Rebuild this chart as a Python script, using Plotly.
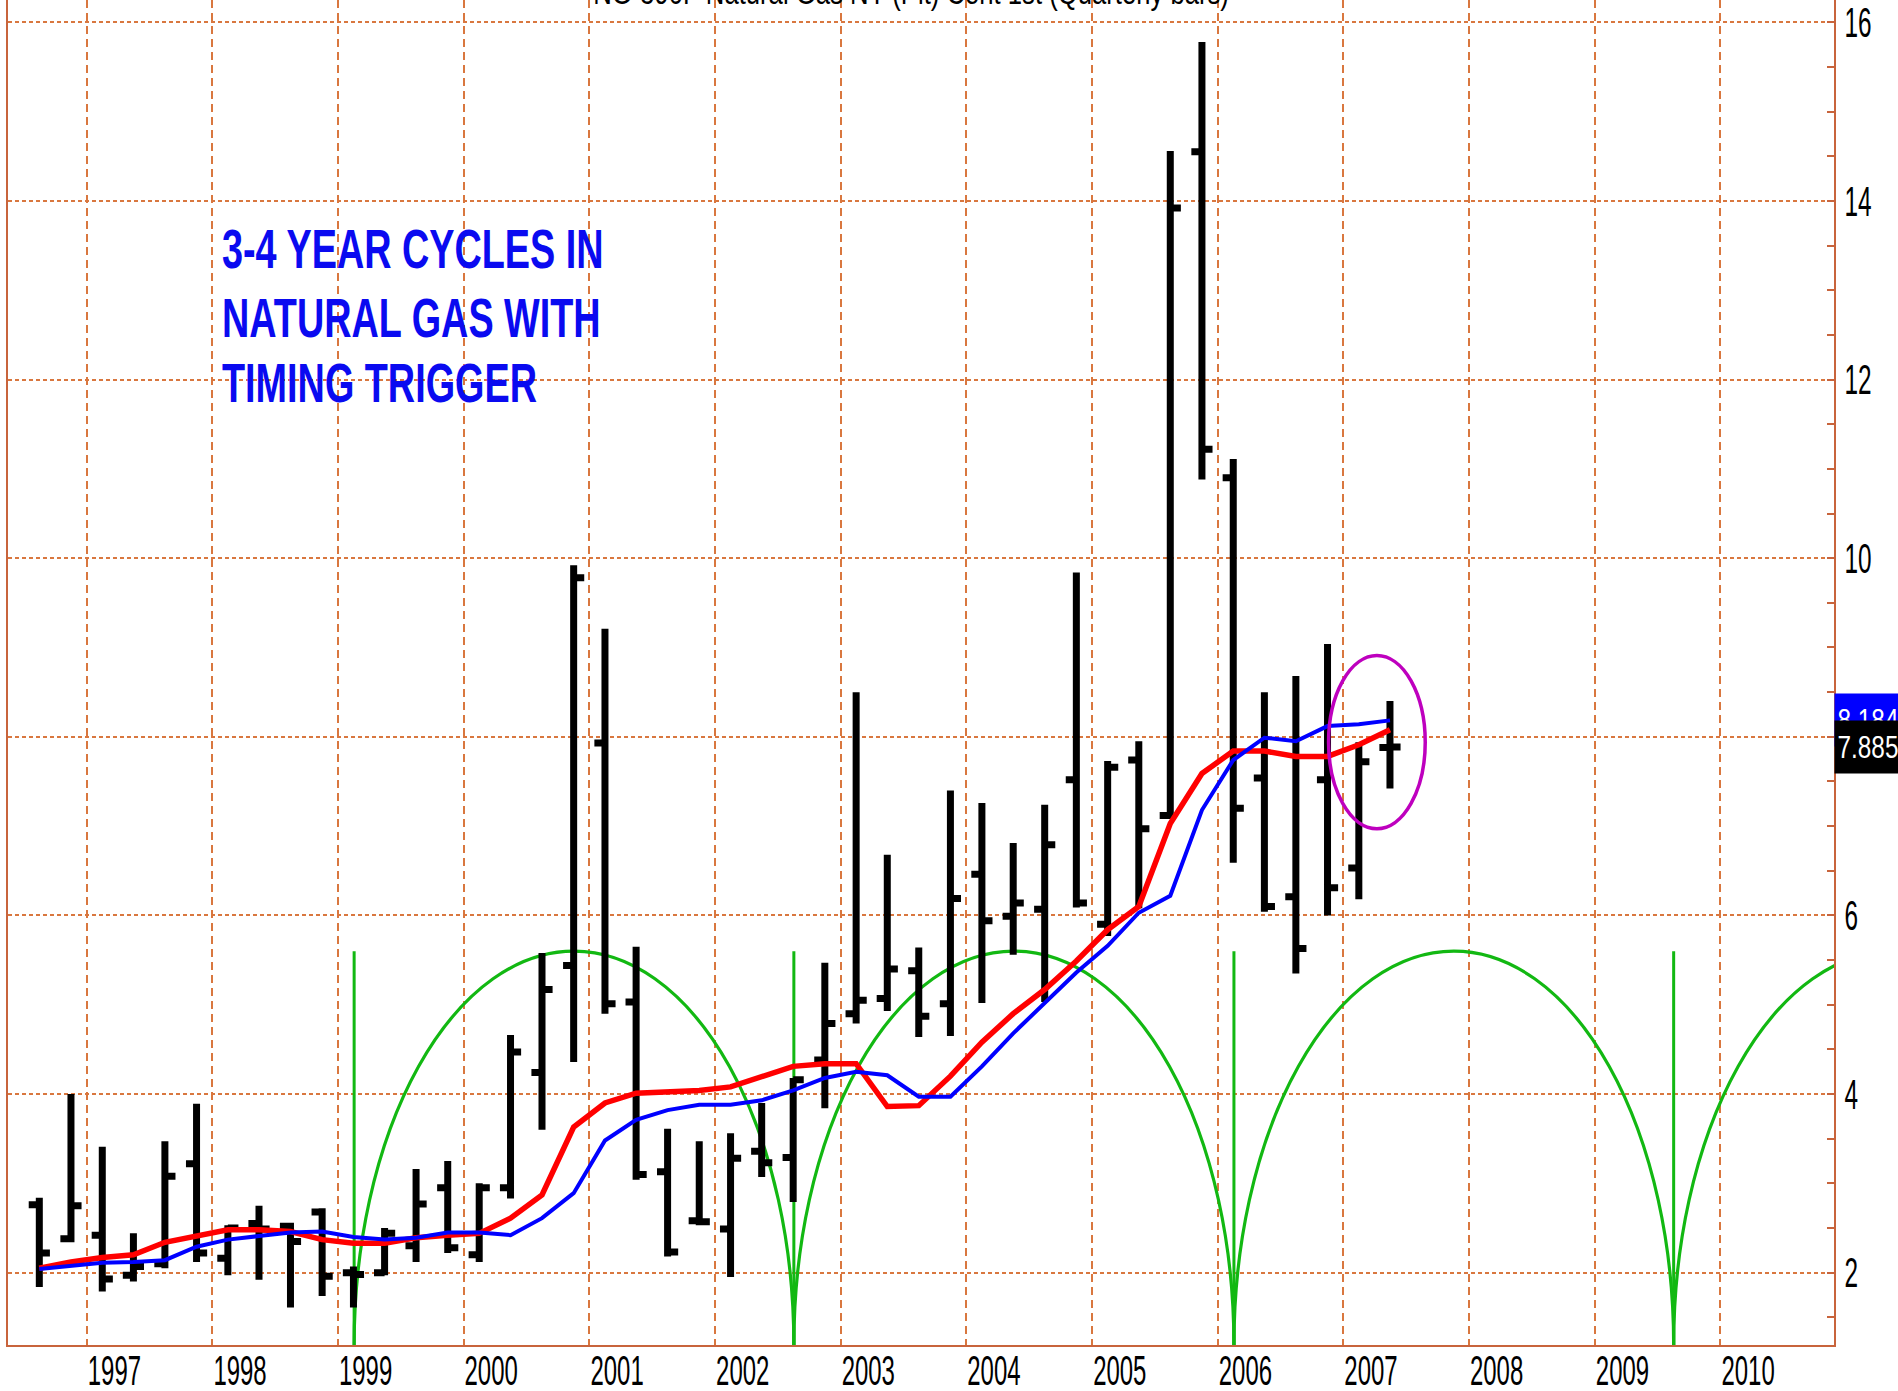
import pandas as pd
import plotly.graph_objects as go

# ---------------- data ----------------
quarters = ["1996Q3", "1996Q4",
            "1997Q1", "1997Q2", "1997Q3", "1997Q4",
            "1998Q1", "1998Q2", "1998Q3", "1998Q4",
            "1999Q1", "1999Q2", "1999Q3", "1999Q4",
            "2000Q1", "2000Q2", "2000Q3", "2000Q4",
            "2001Q1", "2001Q2", "2001Q3", "2001Q4",
            "2002Q1", "2002Q2", "2002Q3", "2002Q4",
            "2003Q1", "2003Q2", "2003Q3", "2003Q4",
            "2004Q1", "2004Q2", "2004Q3", "2004Q4",
            "2005Q1", "2005Q2", "2005Q3", "2005Q4",
            "2006Q1", "2006Q2", "2006Q3", "2006Q4",
            "2007Q1", "2007Q2"]

opens = [2.76, 2.38,
         2.42, 1.97, 2.10, 3.22,
         2.16, 2.55, 2.52, 2.68,
         2.00, 2.00, 2.30, 2.95,
         2.20, 2.95, 4.24, 5.44,
         7.93, 5.03, 3.13, 2.58,
         2.49, 3.36, 3.29, 4.38,
         4.90, 5.07, 5.38, 5.01,
         6.46, 5.99, 6.07, 7.52,
         5.90, 7.74, 7.12, 14.55,
         10.90, 7.54, 6.21, 7.52,
         6.53, 7.88]

highs = [2.84, 4.00,
         3.41, 2.44, 3.47, 3.89,
         2.53, 2.75, 2.56, 2.72,
         2.07, 2.50, 3.16, 3.25,
         3.00, 4.66, 5.58, 9.92,
         9.21, 5.65, 3.61, 3.47,
         3.56, 3.90, 4.18, 5.47,
         8.50, 6.68, 5.64, 7.40,
         7.26, 6.81, 7.24, 9.84,
         7.73, 7.95, 14.56, 15.78,
         11.11, 8.50, 8.68, 9.04,
         7.94, 8.40]

lows = [1.84, 2.34,
        1.79, 1.90, 2.05, 2.12,
        1.97, 1.92, 1.61, 1.74,
        1.61, 1.97, 2.12, 2.22,
        2.12, 2.83, 3.60, 4.36,
        4.90, 3.04, 2.18, 2.53,
        1.95, 3.07, 2.79, 3.84,
        4.79, 4.93, 4.64, 4.65,
        5.02, 5.56, 5.03, 6.09,
        5.77, 6.08, 7.08, 10.88,
        6.59, 6.04, 5.35, 6.00,
        6.18, 7.42]

closes = [2.22, 2.75,
          1.93, 2.07, 3.08, 2.22,
          2.50, 2.49, 2.35, 1.96,
          1.98, 2.44, 2.77, 2.28,
          2.95, 4.47, 5.17, 9.78,
          5.01, 3.10, 2.23, 2.57,
          3.28, 3.23, 4.16, 4.79,
          5.05, 5.40, 4.87, 6.19,
          5.94, 6.14, 6.79, 6.14,
          7.66, 6.97, 13.92, 11.22,
          7.20, 6.10, 5.63, 6.31,
          7.72, 7.885]

ma_red = [2.05, 2.12,
          2.17, 2.20, 2.34, 2.41,
          2.48, 2.48, 2.46, 2.37,
          2.33, 2.33, 2.39, 2.42,
          2.44, 2.61, 2.87, 3.63,
          3.90, 4.01, 4.03, 4.04,
          4.08, 4.19, 4.31, 4.34,
          4.34, 3.86, 3.87, 4.20,
          4.58, 4.90, 5.17, 5.49,
          5.84, 6.10, 7.03, 7.59,
          7.84, 7.84, 7.78, 7.78,
          7.91, 8.08]

ma_blue = [2.04, 2.07,
           2.11, 2.12, 2.14, 2.29,
           2.37, 2.41, 2.45, 2.46,
           2.40, 2.37, 2.39, 2.45,
           2.45, 2.42, 2.61, 2.89,
           3.48, 3.71, 3.82, 3.88,
           3.88, 3.93, 4.04, 4.18,
           4.25, 4.21, 3.97, 3.97,
           4.31, 4.68, 5.02, 5.36,
           5.66, 6.03, 6.22, 7.18,
           7.74, 7.99, 7.95, 8.12,
           8.14, 8.184]

cycle_lows = ["1999-02-17", "2002-08-18", "2006-02-17", "2009-08-18", "2013-02-17"]
cycle_peak = 5.6

year_ticks = list(range(1997, 2011))
price_ticks = [2, 4, 6, 8, 10, 12, 14, 16]

last_close = 7.885
last_blue = 8.184

title_text = "NG-590F Natural Gas NY (Pit) Cont 1st (Quarterly bars)"
note_lines = ["3-4 YEAR CYCLES IN", "NATURAL GAS WITH", "TIMING TRIGGER"]

# ---------------- styling ----------------
FONT = "Liberation Sans Narrow, Arial Narrow, Liberation Sans, Arial, sans-serif"
GRID = "#D9773F"
BORDER = "#C8643C"
GREEN = "#12B812"
Y_MIN, Y_MAX = 1.19, 16.25
X_RANGE = ["1996-05-17", "2010-11-27"]

periods = pd.PeriodIndex(quarters, freq="Q")
xq = periods.start_time + (periods.end_time - periods.start_time) / 2

fig = go.Figure()

fig.add_trace(go.Ohlc(
    x=xq, open=opens, high=highs, low=lows, close=closes,
    increasing=dict(line=dict(color="black", width=7)),
    decreasing=dict(line=dict(color="black", width=7)),
    tickwidth=0.34, hoverinfo="skip", showlegend=False))

fig.add_trace(go.Scatter(x=xq, y=ma_red, mode="lines",
                         line=dict(color="#FF0000", width=5.5),
                         hoverinfo="skip", showlegend=False))
fig.add_trace(go.Scatter(x=xq, y=ma_blue, mode="lines",
                         line=dict(color="#0000FF", width=4),
                         hoverinfo="skip", showlegend=False))

shapes = []
for i in range(len(cycle_lows) - 1):
    shapes.append(dict(type="circle", xref="x", yref="y",
                       x0=cycle_lows[i], x1=cycle_lows[i + 1],
                       y0=2 * Y_MIN - cycle_peak, y1=cycle_peak,
                       line=dict(color=GREEN, width=3.2), layer="between"))
for d in cycle_lows:
    shapes.append(dict(type="line", xref="x", yref="y",
                       x0=d, x1=d, y0=Y_MIN, y1=cycle_peak,
                       line=dict(color=GREEN, width=3), layer="between"))
# highlight ellipse around the latest bars
shapes.append(dict(type="circle", xref="x", yref="y",
                   x0="2006-11-19", x1="2007-08-27", y0=6.97, y1=8.91,
                   line=dict(color="#BE00BE", width=3.5), layer="above"))

annotations = []
annotations.append(dict(text=title_text, xref="paper", yref="paper",
                        x=0.4944, y=1, xanchor="center", yanchor="bottom",
                        yshift=-13, showarrow=False,
                        font=dict(family=FONT, size=34, color="black")))
note_y = [13.473, 12.69, 11.962]
for line, yv in zip(note_lines, note_y):
    annotations.append(dict(text=line, xref="x", yref="y",
                            x="1998-01-22", y=yv, xanchor="left", yanchor="middle",
                            align="left", showarrow=False,
                            font=dict(family=FONT, size=56, color="#0A0AF0", weight=700)))
annotations.append(dict(text=f"{last_blue:.3f}", xref="paper", yref="y",
                        x=1, y=last_blue, xanchor="left", yanchor="middle",
                        width=64, height=50, bgcolor="#0000FF", showarrow=False,
                        font=dict(family=FONT, size=32, color="white")))
annotations.append(dict(text=f"{last_close:.3f}", xref="paper", yref="y",
                        x=1, y=last_close, xanchor="left", yanchor="middle",
                        width=64, height=50, bgcolor="black", showarrow=False,
                        font=dict(family=FONT, size=32, color="white")))

fig.update_layout(
    width=1898, height=1391,
    margin=dict(l=8, r=64, t=0, b=46, autoexpand=False),
    paper_bgcolor="white", plot_bgcolor="white",
    showlegend=False,
    shapes=shapes, annotations=annotations,
    xaxis=dict(type="date", range=X_RANGE, automargin=False,
               rangeslider=dict(visible=False),
               tickvals=[f"{y}-01-01" for y in year_ticks],
               ticktext=[str(y) for y in year_ticks],
               ticklabelposition="outside right",
               ticklabeloverflow="allow",
               ticklabelstandoff=-12,
               showgrid=True, gridcolor=GRID, gridwidth=1.5, griddash="8px,5px",
               showline=True, linecolor=BORDER, linewidth=2,
               ticks="", zeroline=False,
               tickfont=dict(family=FONT, size=42, color="black")),
    yaxis=dict(side="right", range=[Y_MIN, Y_MAX], automargin=False,
               tickvals=price_ticks,
               ticktext=[("" if v == 8 else str(v)) for v in price_ticks],
               ticklabeloverflow="allow",
               showgrid=True, gridcolor=GRID, gridwidth=1.5, griddash="4px,3px",
               showline=True, mirror=True, linecolor=BORDER, linewidth=2,
               ticks="inside", ticklen=7, tickcolor=BORDER, tickwidth=2,
               minor=dict(tick0=0, dtick=0.5, ticks="inside", ticklen=7,
                          tickcolor=BORDER, tickwidth=2, showgrid=False),
               zeroline=False,
               tickfont=dict(family=FONT, size=42, color="black")),
)

# The reference's lettering is tall and narrow; compress the glyphs horizontally.
post = """
var gd = document.getElementById('{plot_id}');
function squeeze(el, f) {
  var w = el.getComputedTextLength();
  if (w > 0) {
    el.setAttribute('textLength', (w * f).toFixed(2));
    el.setAttribute('lengthAdjust', 'spacingAndGlyphs');
  }
}
gd.querySelectorAll('.xtick text').forEach(function(t){ squeeze(t, 0.57); });
gd.querySelectorAll('.ytick text').forEach(function(t){ squeeze(t, 0.58); });
var factors = {0: 0.755, 1: 0.675, 2: 0.675, 3: 0.675, 4: 0.76, 5: 0.76};
gd.querySelectorAll('g.annotation').forEach(function(g){
  var i = parseInt(g.getAttribute('data-index'));
  var t = g.querySelector('text.annotation-text');
  if (t && factors[i]) { squeeze(t, factors[i]); }
});
document.body.style.margin = '0';
document.body.style.overflow = 'hidden';
"""

fig.write_html("out.html", config={"displayModeBar": False}, post_script=post)
